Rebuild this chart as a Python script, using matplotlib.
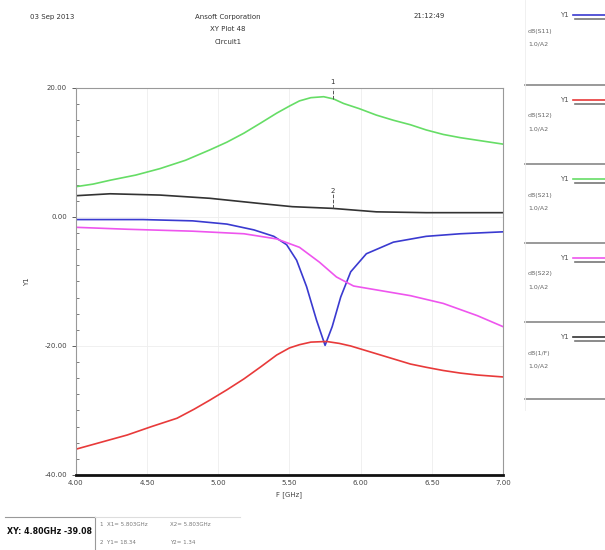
import matplotlib
matplotlib.use("Agg")
import matplotlib.pyplot as plt
from matplotlib.ticker import MultipleLocator

# values (dB vs GHz)
f_s11 = [4.00, 4.47, 4.82, 5.06, 5.25, 5.39, 5.48, 5.55, 5.62, 5.69, 5.75, 5.80, 5.86, 5.93, 6.04, 6.23, 6.46, 6.70, 7.00]
db_s11 = [-0.4, -0.4, -0.6, -1.1, -2.0, -3.0, -4.3, -6.7, -10.8, -16.0, -19.9, -17.0, -12.4, -8.5, -5.7, -3.9, -3.0, -2.6, -2.3]

f_s12 = [4.00, 4.18, 4.36, 4.53, 4.71, 4.83, 4.94, 5.06, 5.18, 5.30, 5.41, 5.50, 5.57, 5.65, 5.76,
         5.85, 5.93, 6.02, 6.11, 6.23, 6.35, 6.46, 6.58, 6.70, 6.82, 7.00]
db_s12 = [-36.0, -34.9, -33.8, -32.5, -31.2, -29.8, -28.4, -26.8, -25.1, -23.2, -21.4, -20.3, -19.8, -19.4, -19.3,
          -19.6, -20.0, -20.6, -21.2, -22.0, -22.8, -23.3, -23.8, -24.2, -24.5, -24.8]

f_s21 = [4.00, 4.12, 4.24, 4.42, 4.59, 4.77, 4.94, 5.06, 5.18, 5.30, 5.41, 5.50, 5.57, 5.65, 5.74,
         5.81, 5.88, 5.99, 6.11, 6.23, 6.35, 6.46, 6.58, 6.70, 6.82, 7.00]
db_s21 = [4.7, 5.1, 5.7, 6.5, 7.5, 8.8, 10.4, 11.6, 13.0, 14.6, 16.1, 17.2, 18.0, 18.5, 18.65,
          18.3, 17.6, 16.8, 15.8, 15.0, 14.3, 13.5, 12.8, 12.3, 11.9, 11.3]

f_s22 = [4.00, 4.36, 4.82, 5.18, 5.41, 5.57, 5.71, 5.83, 5.95, 6.11, 6.35, 6.58, 6.82, 7.00]
db_s22 = [-1.6, -1.9, -2.2, -2.6, -3.4, -4.7, -7.0, -9.3, -10.7, -11.3, -12.2, -13.4, -15.3, -17.0]

f_k = [4.00, 4.24, 4.59, 4.94, 5.29, 5.52, 5.80, 6.11, 6.46, 7.00]
db_k = [3.3, 3.6, 3.4, 2.9, 2.1, 1.6, 1.34, 0.8, 0.67, 0.67]

legend_names = ["dB(S11)", "dB(S12)", "dB(S21)", "dB(S22)", "dB(1/F)"]
legend_colors = ["#3a3ad0", "#e83a3a", "#66dd66", "#ee55ee", "#333333"]

marker_f = 5.803
marker_y = [18.34, 1.34]

fig = plt.figure(figsize=(6.05, 5.5), dpi=100)
ax = fig.add_axes([0.1256, 0.1364, 0.7058, 0.7036])

ax.plot(f_s21, db_s21, color=legend_colors[2], lw=1.2)
ax.plot(f_k, db_k, color=legend_colors[4], lw=1.2)
ax.plot(f_s11, db_s11, color=legend_colors[0], lw=1.2)
ax.plot(f_s22, db_s22, color=legend_colors[3], lw=1.2)
ax.plot(f_s12, db_s12, color=legend_colors[1], lw=1.2)

ax.set_xlim(4.0, 7.0)
ax.set_ylim(-40, 20)
ax.xaxis.set_major_locator(MultipleLocator(0.5))
ax.yaxis.set_major_locator(MultipleLocator(20))
ax.yaxis.set_minor_locator(MultipleLocator(2.5))
ax.xaxis.set_major_formatter(plt.FormatStrFormatter("%.2f"))
ax.yaxis.set_major_formatter(plt.FormatStrFormatter("%.2f"))
ax.tick_params(axis="both", labelsize=5, colors="#444444", length=3, width=0.6)
ax.tick_params(axis="y", which="minor", direction="in", length=2, width=0.6, colors="#666666")
ax.tick_params(axis="x", direction="in", length=0)
ax.grid(True, color="#eeeeee", lw=0.6)
for side in ["top", "right", "left"]:
    ax.spines[side].set_color("#999999")
    ax.spines[side].set_linewidth(0.8)
ax.spines["bottom"].set_color("#111111")
ax.spines["bottom"].set_linewidth(2.0)

ax.set_xlabel("F [GHz]", fontsize=5, color="#444444", labelpad=4)
ax.set_ylabel("Y1", fontsize=5, color="#444444", labelpad=10)

# marker labels
for i, y in enumerate(marker_y):
    ax.plot([marker_f, marker_f], [y, y + 2.2], color="#555555", lw=0.7, ls="--")
    ax.text(marker_f, y + 2.2, str(i + 1), fontsize=5, ha="center", va="bottom", color="#333333")

# header
fig.text(0.05, 0.97, "03 Sep 2013", fontsize=5, color="#333333", va="center")
fig.text(0.377, 0.97, "Ansoft Corporation", fontsize=5, color="#333333", ha="center", va="center")
fig.text(0.377, 0.947, "XY Plot 48", fontsize=5, color="#333333", ha="center", va="center")
fig.text(0.377, 0.924, "Circuit1", fontsize=5, color="#333333", ha="center", va="center")
fig.text(0.71, 0.97, "21:12:49", fontsize=5, color="#333333", ha="center", va="center")

# legend panel on the right
seps = [85, 164, 243, 322, 399]
tops = [0, 85, 164, 243, 322]
for k in range(5):
    y0 = tops[k]
    fig.text(560 / 605, 1 - (y0 + 15) / 550, "Y1", fontsize=5, color="#555555", va="center")
    fig.add_artist(plt.Line2D([573 / 605, 1.0], [1 - (y0 + 15) / 550] * 2, color=legend_colors[k], lw=1.2))
    fig.add_artist(plt.Line2D([575 / 605, 1.0], [1 - (y0 + 19) / 550] * 2, color="#777777", lw=1.2))
    fig.text(528 / 605, 1 - (y0 + 31) / 550, legend_names[k], fontsize=4.5, color="#666666", va="center")
    fig.text(528 / 605, 1 - (y0 + 44) / 550, "1.0/A2", fontsize=4.5, color="#666666", va="center")
    fig.add_artist(plt.Line2D([525 / 605, 1.0], [1 - seps[k] / 550] * 2, color="#888888", lw=1.2))
fig.add_artist(plt.Line2D([525 / 605, 525 / 605], [1 - 410 / 550, 1.0], color="#eeeeee", lw=0.6))

# readout box bottom left
fig.add_artist(plt.Line2D([5 / 605, 95 / 605], [1 - 517 / 550] * 2, color="#999999", lw=0.8))
fig.add_artist(plt.Line2D([95 / 605, 95 / 605], [1 - 517 / 550, 0], color="#999999", lw=0.8))
fig.text(7 / 605, 1 - 532 / 550, "XY: 4.80GHz -39.08", fontsize=5.7, fontweight="bold", color="#111111",
         va="center")
fig.add_artist(plt.Line2D([95 / 605, 240 / 605], [1 - 517 / 550] * 2, color="#dddddd", lw=0.8))
fig.text(100 / 605, 1 - 525 / 550, "1  X1= 5.803GHz", fontsize=4, color="#777777", va="center")
fig.text(100 / 605, 1 - 542 / 550, "2  Y1= 18.34", fontsize=4, color="#777777", va="center")
fig.text(170 / 605, 1 - 525 / 550, "X2= 5.803GHz", fontsize=4, color="#777777", va="center")
fig.text(170 / 605, 1 - 542 / 550, "Y2= 1.34", fontsize=4, color="#777777", va="center")

fig.savefig("out.png", dpi=100)
